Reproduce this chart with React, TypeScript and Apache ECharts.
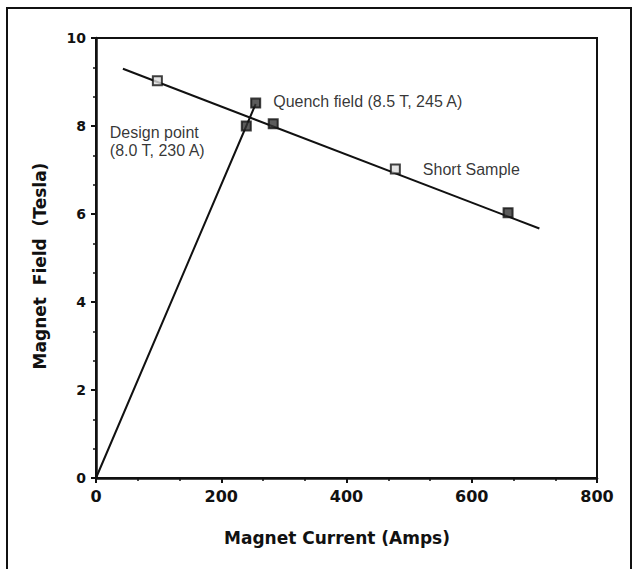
import React, { useEffect, useRef } from "react";
import * as echarts from "echarts";

// Short-sample line (critical field vs. current)
const shortSampleLine: [number, number][] = [
  [43, 9.3],
  [708, 5.67],
];
// Load line of the magnet
const loadLine: [number, number][] = [
  [0, 0],
  [240, 8.0],
  [255, 8.5],
];
// Measured points on the short-sample line (hollow squares)
const hollowPoints: [number, number][] = [
  [98, 9.03],
  [478, 7.02],
];
// Measured points (filled squares)
const filledPoints: [number, number][] = [
  [283, 8.05],
  [658, 6.03],
];
const designPoint: [number, number] = [240, 8.0];
const quenchPoint: [number, number] = [255, 8.52];

const xTicks = [0, 200, 400, 600, 800];
const yTicks = [0, 2, 4, 6, 8, 10];

const designLabel = "Design point\n(8.0 T, 230 A)";
const quenchLabel = "Quench field (8.5 T, 245 A)";
const shortLabel = "Short Sample";
const xName = "Magnet Current (Amps)";
const yName = "Magnet  Field  (Tesla)";

const BOLD = "'DejaVu Sans', sans-serif";
const ANN = "'Liberation Sans', Arial, sans-serif";

export default function App() {
  const ref = useRef<HTMLDivElement>(null);
  useEffect(() => {
    document.body.style.margin = "0";
    if (!ref.current) return;
    const chart = echarts.init(ref.current, undefined, { renderer: "svg" });
    const annStyle = {
      color: "#000",
      fontFamily: ANN,
      fontSize: 16,
    };
    chart.setOption({
      animation: false,
      backgroundColor: "#fff",
      grid: {
        left: 96,
        right: 38,
        top: 38,
        bottom: 91,
        show: true,
        borderColor: "#111",
        borderWidth: 2,
        backgroundColor: "transparent",
      },
      xAxis: {
        type: "value",
        min: xTicks[0],
        max: xTicks[xTicks.length - 1],
        interval: 200,
        axisLine: { show: true, lineStyle: { color: "#111", width: 2.5 } },
        axisTick: { show: true, length: 5, lineStyle: { color: "#111", width: 2 } },
        minorTick: { show: true, splitNumber: 3, length: 3, lineStyle: { color: "#111", width: 1.5 } },
        splitLine: { show: false },
        axisLabel: {
          color: "#111",
          fontFamily: BOLD,
          fontWeight: "bold",
          fontSize: 16,
          margin: 10,
        },
      },
      yAxis: {
        type: "value",
        min: yTicks[0],
        max: yTicks[yTicks.length - 1],
        interval: 2,
        axisLine: { show: true, lineStyle: { color: "#111", width: 2.5 } },
        axisTick: { show: true, length: 5, lineStyle: { color: "#111", width: 2 } },
        minorTick: { show: true, splitNumber: 3, length: 3, lineStyle: { color: "#111", width: 1.5 } },
        splitLine: { show: false },
        axisLabel: {
          color: "#111",
          fontFamily: BOLD,
          fontWeight: "bold",
          fontSize: 14,
          margin: 10,
        },
      },
      graphic: [
        {
          type: "rect",
          shape: { x: 7, y: 8, width: 624, height: 620 },
          style: { fill: "none", stroke: "#111", lineWidth: 2 },
          silent: true,
        },
        {
          type: "text",
          x: 337,
          y: 538,
          style: {
            text: xName,
            fontFamily: BOLD,
            fontWeight: "bold",
            fontSize: 17,
            fill: "#111",
            align: "center",
            verticalAlign: "middle",
          },
        },
        {
          type: "text",
          x: 40,
          y: 266,
          rotation: Math.PI / 2,
          style: {
            text: yName,
            fontFamily: BOLD,
            fontWeight: "bold",
            fontSize: 17,
            fill: "#111",
            align: "center",
            verticalAlign: "middle",
          },
        },
      ],
      series: [
        {
          type: "line",
          data: shortSampleLine,
          showSymbol: false,
          symbol: "none",
          lineStyle: { color: "#111", width: 2 },
          silent: true,
          z: 2,
        },
        {
          type: "line",
          data: loadLine,
          showSymbol: false,
          symbol: "none",
          lineStyle: { color: "#111", width: 2 },
          silent: true,
          z: 2,
        },
        {
          type: "scatter",
          symbol: "rect",
          symbolSize: 9,
          itemStyle: { color: "#ddd", borderColor: "#111", borderWidth: 2 },
          data: [
            { value: hollowPoints[0] },
            {
              value: hollowPoints[1],
              label: {
                show: true,
                formatter: shortLabel,
                position: "right",
                distance: 22,
                ...annStyle,
              },
            },
          ],
          z: 5,
        },
        {
          type: "scatter",
          symbol: "rect",
          symbolSize: 9,
          itemStyle: { color: "#333", borderColor: "#111", borderWidth: 2 },
          data: [
            { value: filledPoints[0] },
            { value: filledPoints[1] },
            {
              value: designPoint,
              label: {
                show: true,
                formatter: designLabel,
                position: [-131, 3],
                align: "left",
                verticalAlign: "top",
                lineHeight: 18,
                ...annStyle,
              },
            },
            {
              value: quenchPoint,
              label: {
                show: true,
                formatter: quenchLabel,
                position: "right",
                distance: 12,
                offset: [0, -2],
                ...annStyle,
              },
            },
          ],
          z: 5,
        },
      ],
    });
    return () => chart.dispose();
  }, []);
  return <div ref={ref} style={{ width: 635, height: 569 }} />;
}
